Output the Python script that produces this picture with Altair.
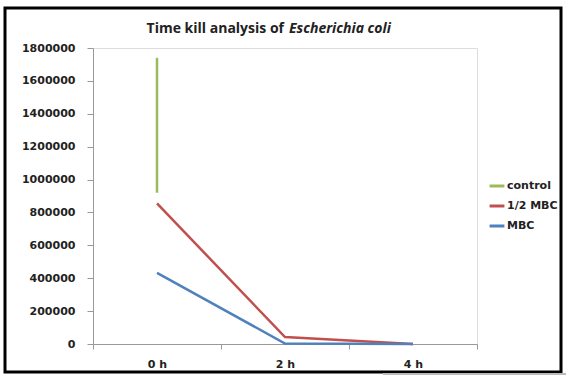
import altair as alt
import pandas as pd

times = ["0 h", "2 h", "4 h"]
series_names = ["control", "1/2 MBC", "MBC"]
control_time = ["0 h", "0 h"]
control_vals = [1740000, 920000]
half_mbc_vals = [855000, 42000, 0]
mbc_vals = [432000, 3000, 0]
colors = ["#9BBB59", "#C0504D", "#4F81BD"]

rows = []
for i, (t, v) in enumerate(zip(control_time, control_vals)):
    rows.append({"time": t, "value": v, "series": "control", "ord": i})
for i, (t, v) in enumerate(zip(times, half_mbc_vals)):
    rows.append({"time": t, "value": v, "series": "1/2 MBC", "ord": i})
for i, (t, v) in enumerate(zip(times, mbc_vals)):
    rows.append({"time": t, "value": v, "series": "MBC", "ord": i})
df = pd.DataFrame(rows)

FONT = "DejaVu Sans"

lines = alt.Chart(df).mark_line(strokeWidth=2.5).encode(
    x=alt.X("time:N", sort=times, title=None,
            scale=alt.Scale(domain=times, paddingInner=0, paddingOuter=0),
            axis=alt.Axis(labelAngle=0, tickBand="extent", labelFont=FONT,
                          labelFontWeight="bold", labelFontSize=11, labelColor="#222",
                          domainColor="#999", tickColor="#999", tickSize=5,
                          labelPadding=9, grid=False)),
    y=alt.Y("value:Q", title=None,
            scale=alt.Scale(domain=[0, 1800000], nice=False),
            axis=alt.Axis(values=list(range(0, 1800001, 200000)), format="d",
                          labelFont=FONT, labelFontWeight="bold", labelFontSize=11,
                          labelColor="#222", domainColor="#999", tickColor="#999",
                          tickSize=6, labelPadding=12, grid=False)),
    color=alt.Color("series:N", sort=series_names,
                    scale=alt.Scale(domain=series_names, range=colors),
                    legend=alt.Legend(title=None, orient="none", legendX=395, legendY=129,
                                      symbolType="stroke", symbolStrokeWidth=3,
                                      symbolSize=220, labelFont=FONT, labelFontWeight="bold",
                                      labelFontSize=11, labelColor="#222", rowPadding=5,
                                      labelOffset=1)),
    order="ord:Q",
)

frame = alt.Chart(pd.DataFrame({"a": [0]})).mark_rect(
    fill=None, stroke="black", strokeWidth=3
).encode(x=alt.value(-88), x2=alt.value(468), y=alt.value(-40), y2=alt.value(324))

edge = alt.Chart(pd.DataFrame({"a": [0]})).mark_rule(
    stroke="#bbbbbb", strokeWidth=2
).encode(x=alt.value(290), x2=alt.value(473), y=alt.value(326))

title_df = pd.DataFrame({"a": [0]})
t1 = alt.Chart(title_df).mark_text(
    text="Time kill analysis of", align="right", baseline="alphabetic",
    font="Open Sans", fontWeight="bold", fontSize=14, color="#222"
).encode(x=alt.value(191), y=alt.value(-15))
t2 = alt.Chart(title_df).mark_text(
    text="Escherichia coli", align="left", baseline="alphabetic",
    font="Open Sans", fontWeight="bold", fontStyle="italic", fontSize=14, color="#222"
).encode(x=alt.value(196), y=alt.value(-15))

chart = alt.layer(lines, frame, edge, t1, t2).properties(
    width=384, height=296,
    autosize=alt.AutoSizeParams(type="none"),
    padding={"left": 93, "top": 48, "right": 89, "bottom": 32},
).configure_view(stroke=None).configure(background="white")

chart.save("out.html", embed_options={"renderer": "svg", "actions": False})
